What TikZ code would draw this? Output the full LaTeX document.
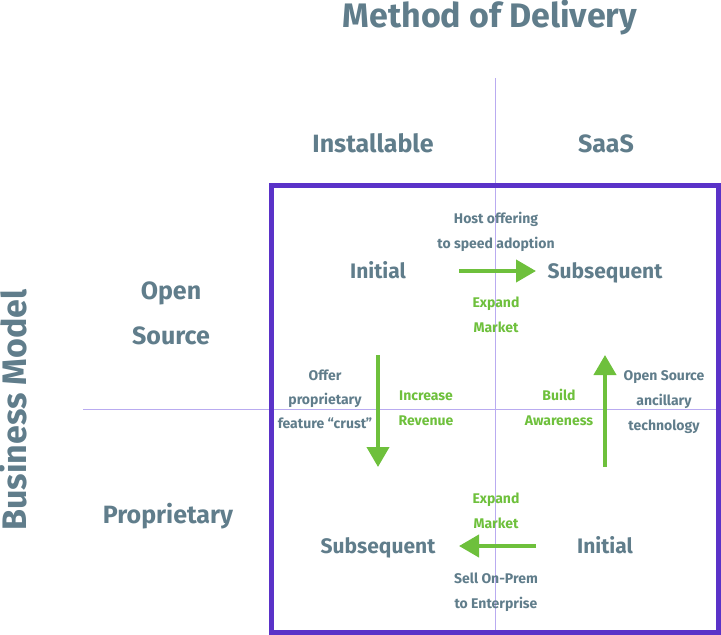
\documentclass[tikz,border=0pt]{standalone}
\usepackage{fontspec}
\setmainfont{Fira Sans}
\usetikzlibrary{arrows.meta}
\definecolor{slate}{HTML}{607D8B}
\definecolor{grn}{HTML}{6EC03C}
\definecolor{purp}{HTML}{5A32C8}
\definecolor{lpurp}{HTML}{B9ABF0}
\tikzset{
  base/.style={inner sep=0pt,text depth=0pt},
  big/.style={base,text height=23.4pt,text=slate,font=\bfseries\fontsize{34}{34}\selectfont},
  head/.style={base,text height=17.2pt,text=slate,font=\bfseries\fontsize{25}{25}\selectfont},
  lab/.style={base,text height=14.5pt,text=slate,font=\bfseries\fontsize{21}{21}\selectfont},
  small/.style={base,text height=9.6pt,text=slate,font=\bfseries\fontsize{14}{14}\selectfont},
  gsmall/.style={base,text height=9.6pt,text=grn,font=\bfseries\fontsize{14}{14}\selectfont},
  garrow/.style={draw=grn,line width=4pt,-{Triangle[length=20pt,width=22pt]}},
  axis/.style={draw=lpurp,line width=1pt}
}
\begin{document}
\begin{tikzpicture}[x=1pt,y=-1pt]
\useasboundingbox (0,0) rectangle (721,635);
% axes
\coordinate (vtop) at (495,78);
\coordinate (vbot) at (495,635);
\coordinate (hl) at (83,409);
\coordinate (hr) at (721,409);
\draw[axis] (vtop) -- (vbot);
\draw[axis] (hl) -- (hr);
% box
\node[draw=purp,line width=5pt,minimum width=447pt,minimum height=447pt,inner sep=0pt] (box) at (494.5,408.5) {};
% titles
\node[big] (title) at (490,16) {Method of Delivery};
\node[big,rotate=90] (bm) at (15,410) {Business Model};
\node[head] (inst) at (373,144) {Installable};
\node[head] (saas) at (606,144) {SaaS};
\node[head] (open) at (171,291) {Open};
\node[head] (src) at (171,336) {Source};
\node[head] (prop) at (168,515) {Proprietary};
% top row
\node[small] (h1) at (496,219) {Host offering};
\node[small] (h2) at (496,244) {to speed adoption};
\node[lab] (i1) at (378,271) {Initial};
\node[lab] (s1) at (605,271) {Subsequent};
\node[gsmall] (e1) at (496,303) {Expand};
\node[gsmall] (m1) at (496,328) {Market};
\coordinate (a1s) at (459,271);
\coordinate (a1e) at (536,271);
\draw[garrow] (a1s) -- (a1e);
% middle
\node[small] (o1) at (325,376) {Offer};
\node[small] (o2) at (325,400) {proprietary};
\node[small] (o3) at (325,424) {feature “crust”};
\coordinate (a2s) at (378,355);
\coordinate (a2e) at (378,467);
\draw[garrow] (a2s) -- (a2e);
\node[gsmall] (ir1) at (426,396) {Increase};
\node[gsmall] (ir2) at (426,421) {Revenue};
\node[gsmall] (ba1) at (559,396) {Build};
\node[gsmall] (ba2) at (559,421) {Awareness};
\coordinate (a3s) at (605,467);
\coordinate (a3e) at (605,355);
\draw[garrow] (a3s) -- (a3e);
\node[small] (os1) at (664,376) {Open Source};
\node[small] (os2) at (664,401) {ancillary};
\node[small] (os3) at (664,426) {technology};
% bottom row
\node[gsmall] (e2) at (496,499) {Expand};
\node[gsmall] (m2) at (496,524) {Market};
\node[lab] (s2) at (378,546) {Subsequent};
\node[lab] (i2) at (605,546) {Initial};
\coordinate (a4s) at (536,546);
\coordinate (a4e) at (459,546);
\draw[garrow] (a4s) -- (a4e);
\node[small] (sp1) at (496,579) {Sell On-Prem};
\node[small] (sp2) at (496,604) {to Enterprise};
\end{tikzpicture}
\end{document}
